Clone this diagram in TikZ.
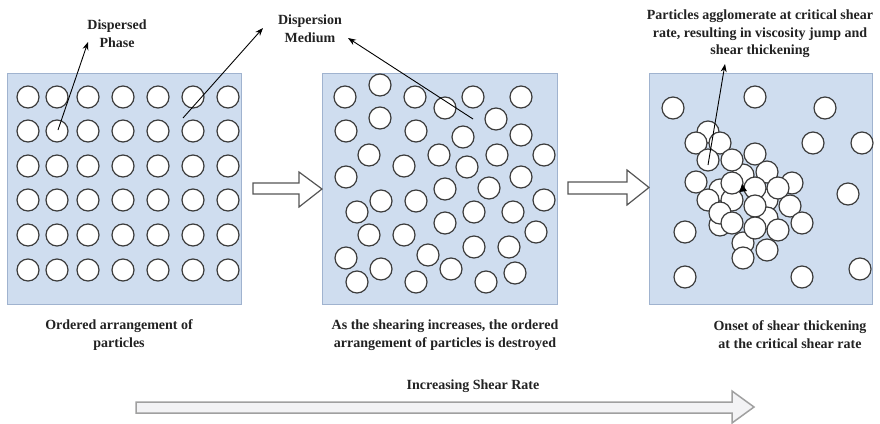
\documentclass[tikz,border=0pt]{standalone}
\usepackage{fontspec}
\setmainfont{Liberation Serif}
\usetikzlibrary{arrows.meta}
\definecolor{panelfill}{RGB}{207,221,239}
\definecolor{panelline}{RGB}{160,179,207}
\definecolor{circline}{RGB}{60,60,60}
\definecolor{textcol}{RGB}{34,34,34}
\definecolor{bigfill}{RGB}{243,243,245}
\definecolor{bigline}{RGB}{160,160,160}
\definecolor{smallline}{RGB}{85,85,85}
\begin{document}
\begin{tikzpicture}[x=1pt,y=-1pt,
  panel/.style={draw=panelline, fill=panelfill, line width=0.8pt, inner sep=0pt},
  particle/.style={draw=circline, fill=white, line width=1.2pt},
  lbl/.style={font=\fontsize{14}{18}\selectfont\bfseries, align=center, inner sep=0pt, text=textcol},
  pointer/.style={draw=black, line width=0.9pt, -{Stealth[length=8pt,width=6pt]}},
  blockarrow/.style={draw=smallline, fill=white, line width=1.2pt, line join=miter},
  bigarrow/.style={draw=bigline, fill=bigfill, line width=1.5pt, line join=miter}]
\useasboundingbox (0,0) rectangle (880,423);

% panels
\node[panel, minimum width=234pt, minimum height=231pt] (p1) at (124,188.5) {};
\node[panel, minimum width=235pt, minimum height=231pt] (p2) at (439.5,188.5) {};
\node[panel, minimum width=223pt, minimum height=231pt] (p3) at (760.5,188.5) {};

% panel 1: ordered particles
\foreach \cx in {28,57,88,123,158,193,228}
  \foreach \cy in {97,131,166,200,235,270}
    \draw[particle] (\cx,\cy) circle[radius=11pt];

% panel 2: disordered particles
\foreach \cx/\cy in {345/97,380/85,415/97,445/108,473/97,521/97,
  346/131,380/118,416/131,463/137,496/119,521/135,
  369/155,404/166,439/155,467/167,497/155,544/155,
  346/177,445/189,489/188,521/177,
  381/201,357/212,416/201,544/200,474/212,513/212,
  445/223,369/235,404/235,536/232,474/247,509/247,
  346/258,428/255,381/269,451/269,357/282,416/282,486/282,515/273}
    \draw[particle] (\cx,\cy) circle[radius=11pt];

% panel 3: isolated particles
\foreach \cx/\cy in {673/108,755/97,825/108,813/143,862/143,848/194,
  685/232,685/277,802/277,860/269}
    \draw[particle] (\cx,\cy) circle[radius=11pt];
% panel 3: agglomerate (back to front)
\foreach \cx/\cy in {743/175,720/190,732/200,767/200,720/225,743/243,767/218,
  708/132,696/143,720/143,708/160,732/160,755/154,767/172,
  696/182,792/183,732/183,755/188,778/188,
  708/200,720/213,755/206,790/206,
  732/223,802/223,755/228,778/230,
  767/250,743/258}
    \draw[particle] (\cx,\cy) circle[radius=11pt];

% block arrows between panels
\draw[blockarrow] (253,183) -- (299,183) -- (299,172) -- (322,189)
  -- (299,207) -- (299,194) -- (253,194) -- cycle;
\draw[blockarrow] (568,182) -- (627,182) -- (627,170) -- (649,187.5)
  -- (627,205) -- (627,194) -- (568,194) -- cycle;

% labels
\node[lbl] (dp) at (117,34) {Dispersed\\Phase};
\node[lbl] (dm) at (310,28.5) {Dispersion\\Medium};
\node[lbl, font=\fontsize{14}{17.5}\selectfont\bfseries] (pa) at (760,34)
  {Particles agglomerate at critical shear\\rate, resulting in viscosity jump and\\shear thickening};
\node[lbl] (c1) at (119,335) {Ordered arrangement of\\particles};
\node[lbl] (c2) at (445,335) {As the shearing increases, the ordered\\arrangement of particles is destroyed};
\node[lbl] (c3) at (790,335) {Onset of shear thickening\\at the critical shear rate};
\node[lbl] (isr) at (473,386) {Increasing Shear Rate};

% pointer arrows
\coordinate (dpS) at (58,130);
\coordinate (dpT) at (88,42);
\coordinate (dmS1) at (183,118);
\coordinate (dmT1) at (263,28);
\coordinate (dmS2) at (473,119);
\coordinate (dmT2) at (348,38);
\coordinate (paS) at (708,165);
\coordinate (paT) at (725,64);
\draw[pointer] (dpS) -- (dpT);
\draw[pointer] (dmS1) -- (dmT1);
\draw[pointer] (dmS2) -- (dmT2);
\draw[pointer] (paS) -- (paT);
\fill[black] (739.5,192) -- (747,191) -- (742,184) -- cycle;

% big arrow
\draw[bigarrow] (136,402) -- (732,402) -- (732,391) -- (754,407)
  -- (732,423) -- (732,413) -- (136,413) -- cycle;
\end{tikzpicture}
\end{document}
